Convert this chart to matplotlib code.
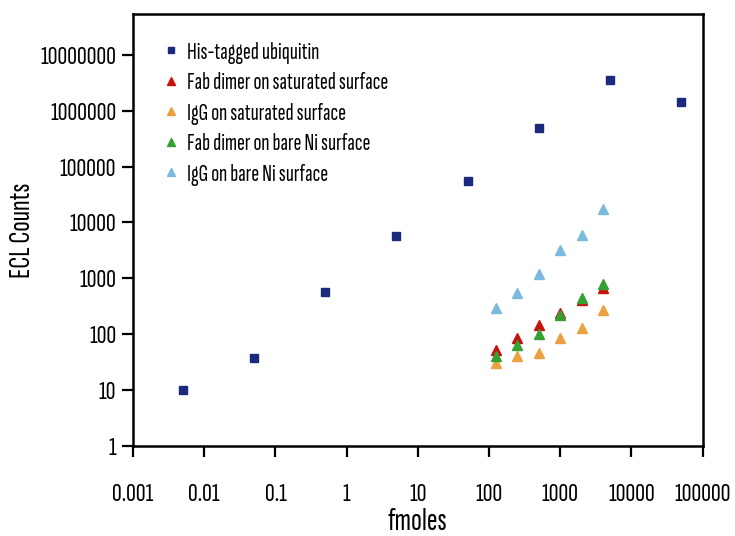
import numpy as np
import matplotlib
matplotlib.use('Agg')
import matplotlib.pyplot as plt
from matplotlib.ticker import FixedLocator, FuncFormatter, NullLocator

plt.rcParams['font.family'] = ['Sofia Sans Extra Condensed', 'Pathway Gothic One', 'DejaVu Sans']
plt.rcParams['font.weight'] = 600

# his-tagged ubiquitin
ubq_x = [0.005, 0.05, 0.5, 5, 50, 500, 5000, 50000]
ubq_y = [10, 38, 570, 5800, 55000, 490000, 3500000, 1400000]

# antibody series share the same amounts
ab_x = [125, 250, 500, 1000, 2000, 4000]
fab_sat = [52, 87, 147, 235, 414, 660]
igg_sat = [30, 40, 46, 87, 130, 266]
fab_bare = [40, 63, 100, 219, 442, 791]
igg_bare = [300, 546, 1194, 3143, 6000, 17150]

colors = ['#1b2a7c', '#c9110d', '#eba13f', '#35a132', '#7cbadd']

fig = plt.figure(figsize=(7.35, 5.36), dpi=100)
ax = fig.add_axes([0.181, 0.168, 0.775, 0.806])

ax.plot(ubq_x, ubq_y, linestyle='none', marker='s', markersize=6,
        color=colors[0], label='His-tagged ubiquitin')
ax.plot(ab_x, fab_sat, linestyle='none', marker='^', markersize=7,
        color=colors[1], label='Fab dimer on saturated surface')
ax.plot(ab_x, igg_sat, linestyle='none', marker='^', markersize=7,
        color=colors[2], label='IgG on saturated surface')
ax.plot(ab_x, fab_bare, linestyle='none', marker='^', markersize=7,
        color=colors[3], label='Fab dimer on bare Ni surface')
ax.plot(ab_x, igg_bare, linestyle='none', marker='^', markersize=7,
        color=colors[4], label='IgG on bare Ni surface')

ax.set_xscale('log')
ax.set_yscale('log')
ax.set_xlim(0.001, 100000)
ax.set_ylim(1, 10 ** 7.73)


def fmt(v, pos):
    if v < 1:
        return f'{v:g}'
    return str(int(round(v)))


ax.xaxis.set_major_locator(FixedLocator([10.0 ** k for k in range(-3, 6)]))
ax.yaxis.set_major_locator(FixedLocator([10.0 ** k for k in range(0, 8)]))
ax.xaxis.set_minor_locator(NullLocator())
ax.yaxis.set_minor_locator(NullLocator())
ax.xaxis.set_major_formatter(FuncFormatter(fmt))
ax.yaxis.set_major_formatter(FuncFormatter(fmt))

ax.tick_params(direction='out', length=8, width=1.6, labelsize=19.5, pad=4)
ax.tick_params(axis='x', pad=19)
for s in ax.spines.values():
    s.set_linewidth(1.8)

ax.set_xlabel('fmoles', fontsize=23)
ax.set_ylabel('ECL Counts', fontsize=22)
ax.xaxis.set_label_coords(0.5, -0.143)
ax.yaxis.set_label_coords(-0.17, 0.5)

ax.legend(loc='upper left', frameon=False, fontsize=17, handletextpad=0.1,
          handlelength=1.2, labelspacing=0.36, markerscale=0.8,
          bbox_to_anchor=(0.004, 0.985))

plt.savefig('out.png', dpi=100)
